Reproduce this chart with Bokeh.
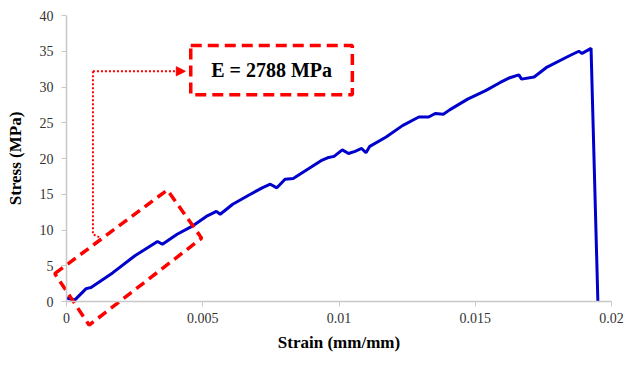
from bokeh.plotting import figure
from bokeh.models import Range1d, FixedTicker, Label, Arrow, NormalHead, BoxAnnotation
from bokeh.embed import file_html
from bokeh.resources import INLINE

# Stress-strain curve
strain = [0.0000, 0.0003, 0.00072, 0.0009, 0.00169, 0.00251, 0.00334, 0.00352, 0.00406, 0.0046,
          0.00513, 0.0055, 0.00564, 0.0061, 0.0067, 0.00718, 0.00748, 0.00772, 0.00802, 0.00832,
          0.00898, 0.00934, 0.00958, 0.00982, 0.01012, 0.01035, 0.01059, 0.01083, 0.01099, 0.01113,
          0.01173, 0.01233, 0.01293, 0.01329, 0.01353, 0.01383, 0.01406, 0.01472, 0.01538, 0.0159,
          0.01627, 0.0166, 0.0167, 0.01716, 0.0176, 0.01842, 0.0188, 0.01892, 0.01925, 0.0195]
stress = [0.5, 0.2, 1.8, 1.95, 4.0, 6.4, 8.4, 8.0, 9.4, 10.5,
          11.9, 12.6, 12.2, 13.6, 14.9, 15.9, 16.4, 15.9, 17.1, 17.2,
          18.8, 19.7, 20.1, 20.3, 21.2, 20.7, 21.0, 21.4, 20.8, 21.7,
          23.0, 24.6, 25.8, 25.8, 26.3, 26.2, 26.8, 28.3, 29.5, 30.6,
          31.3, 31.7, 31.1, 31.4, 32.7, 34.3, 35.0, 34.7, 35.4, 0.0]

x_ticks = [0, 0.005, 0.01, 0.015, 0.02]
x_tick_labels = ["0", "0.005", "0.01", "0.015", "0.02"]
y_ticks = [0, 5, 10, 15, 20, 25, 30, 35, 40]

annotation_text = "E = 2788 MPa"
# highlighted region (rotated box) corners in data units
box_strain = [-0.00043, 0.0037, 0.00496, 0.00083]
box_stress = [3.9, 15.6, 8.86, -3.3]
# dotted leader in data units
lead_strain = [0.0012, 0.00097, 0.00097]
lead_stress = [9.0, 9.4, 32.2]
arrow_end = 0.00436
label_box = (0.00456, 0.01049, 28.9, 35.8)

FONT = "Liberation Serif"
RED = "#ff0000"

# layout (pixels in canvas): where the axes should sit, and the frame extent
W, H = 625, 353
FL, FR, FT, FB = 2, 623, 2, 352          # frame edges
AXL, AXR, AYB, AYT = 66, 611, 301, 15    # pixel of strain 0 / 0.02, stress 0 / 40
XMAX, YMAX = 0.02, 40
sx = XMAX / (AXR - AXL)
sy = YMAX / (AYB - AYT)
x_range = Range1d(-(AXL - FL) * sx, XMAX + (FR - AXR) * sx)
y_range = Range1d(-(FB - AYB) * sy, YMAX + (AYT - FT) * sy)

p = figure(width=W, height=H, output_backend="svg", toolbar_location=None,
           x_range=x_range, y_range=y_range,
           min_border_left=FL, min_border_right=W - FR, min_border_top=FT, min_border_bottom=H - FB)
p.outline_line_color = None
p.grid.visible = False
p.background_fill_color = "white"
p.border_fill_color = "white"

for ax in (p.xaxis[0], p.yaxis[0]):
    ax.fixed_location = 0
    ax.axis_line_color = "#c8c8c8"
    ax.axis_line_width = 1.5
    ax.major_tick_line_color = "#c8c8c8"
    ax.major_tick_in = 0
    ax.major_tick_out = 5
    ax.minor_tick_line_color = None
    ax.major_label_text_font = FONT
    ax.major_label_text_font_size = "14px"
    ax.major_label_text_color = "#333333"
    ax.axis_label_text_font = FONT
    ax.axis_label_text_font_size = "17px"
    ax.axis_label_text_font_style = "bold"
    ax.axis_label_text_color = "black"

p.xaxis.bounds = (0, XMAX)
p.yaxis.bounds = (0, YMAX)
p.xaxis.ticker = FixedTicker(ticks=x_ticks)
p.xaxis.major_label_overrides = {t: l for t, l in zip(x_ticks, x_tick_labels)}
p.yaxis.ticker = FixedTicker(ticks=y_ticks)
p.xaxis.axis_label = "Strain (mm/mm)"
p.yaxis.axis_label = "Stress (MPa)"
p.xaxis.major_label_standoff = 6
p.yaxis.major_label_standoff = 8
p.xaxis.axis_label_standoff = 7
p.yaxis.axis_label_standoff = 12

p.line(strain, stress, line_color="#0000cc", line_width=3)

# rotated dashed box
p.patch(box_strain, box_stress, fill_alpha=0, line_color=RED, line_width=3.5, line_dash="10 6")

p.line(lead_strain, lead_stress, line_color=RED, line_width=2, line_dash="2 2")
p.add_layout(Arrow(end=NormalHead(size=9, fill_color=RED, line_color=RED),
                   x_start=lead_strain[-1], y_start=lead_stress[-1],
                   x_end=arrow_end, y_end=lead_stress[-1],
                   line_color=RED, line_width=2, line_dash="2 2"))

x0, x1, y0, y1 = label_box
p.add_layout(BoxAnnotation(left=x0, right=x1, bottom=y0, top=y1, fill_color="white", fill_alpha=1,
                           line_color=RED, line_alpha=1, line_width=3.5, line_dash="11 6"))
p.add_layout(Label(x=(x0 + x1) / 2, y=(y0 + y1) / 2, text=annotation_text,
                   text_align="center", text_baseline="middle", text_font=FONT,
                   text_font_size="20px", text_font_style="bold", text_color="black"))

open("out.html", "w").write(file_html(p, INLINE))
